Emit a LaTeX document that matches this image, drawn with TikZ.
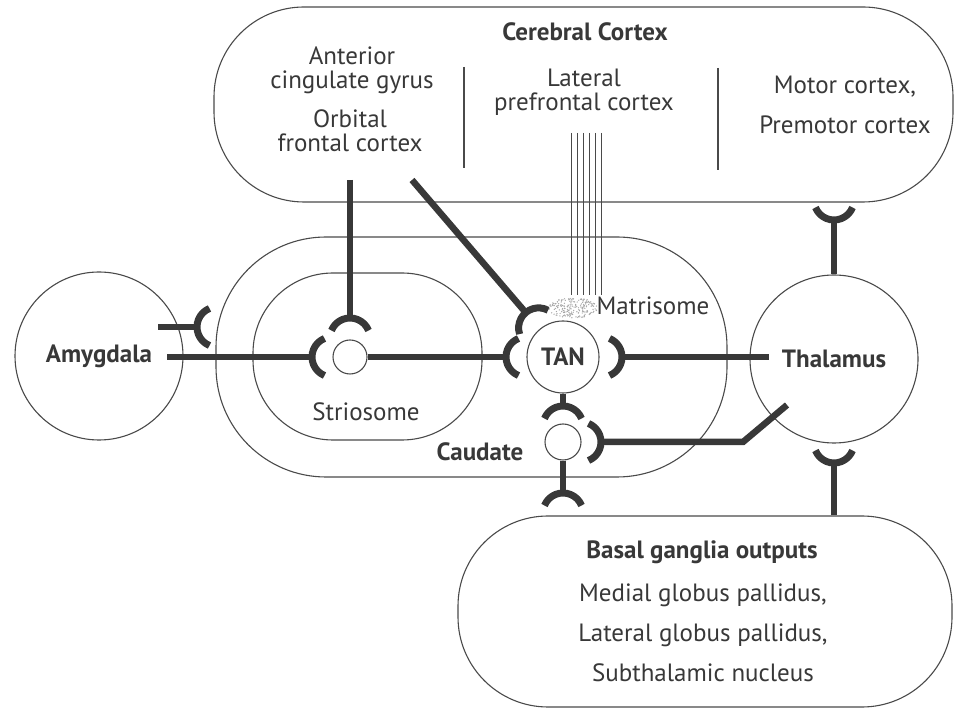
\documentclass[tikz,border=0pt]{standalone}
\usepackage{fontspec}
\setmainfont{PT Sans}
\definecolor{ink}{HTML}{383838}
\definecolor{rim}{HTML}{4A4A4A}
\tikzset{
	cup/.pic={
		\draw[ink, line width=7pt] (112:20) arc[start angle=112, end angle=248, radius=20];
		\coordinate (-back) at (180:20);
	}
}

\begin{document}
\begin{tikzpicture}[
		x={(1pt,0pt)},
		y={(0pt,1pt)},
		region/.style={draw=rim, line width=1.1pt},
		cell/.style={circle, draw=rim, line width=1.1pt, fill=white, inner sep=0pt},
		stem/.style={ink, line width=6.5pt},
		lbl/.style={align=center, text=ink, font=\fontsize{25}{24}\selectfont},
		boldlbl/.style={align=center, text=ink, font=\fontsize{25}{24}\selectfont\bfseries},
	]
		\useasboundingbox (0,0) rectangle (955,709);

		\node[region, rounded corners=90, minimum width=739, minimum height=195] (cortex) at (583.5,604.5) {};
		\node[region, rounded corners=110, minimum width=511, minimum height=240] (caudate) at (471.5,352) {};
		\node[region, rounded corners=80, minimum width=229, minimum height=167] (striosome) at (367.5,352.5) {};
		\node[region, rounded corners=90, minimum width=494, minimum height=191] (basal) at (705,97.5) {};

		\node[cell, minimum size=168, boldlbl] (amygdala) at (99,353) {Amygdala};
		\node[cell, minimum size=168, boldlbl] (thalamus) at (834,350) {Thalamus};
		\node[cell, minimum size=72, boldlbl] (tan) at (563,352) {TAN};
		\node[cell, minimum size=34] (sn) at (350,352) {};
		\node[cell, minimum size=36] (cn) at (563,267) {};

		\node[boldlbl] (ctxname) at (585,677) {Cerebral Cortex};
		\node[lbl] (acg) at (352,639) {Anterior\\cingulate gyrus};
		\node[lbl] (ofc) at (350,578) {Orbital\\frontal cortex};
		\node[lbl] (lpfc) at (584,617) {Lateral\\prefrontal cortex};
		\node[lbl, font=\fontsize{25}{40}\selectfont] (motor) at (845,604) {Motor cortex,\\Premotor cortex};
		\draw[rim, line width=1.1pt] (464,642) -- (464,541);
		\draw[rim, line width=1.1pt] (718,641) -- (718,539);

		\foreach \fx in {571,577,...,601}{
			\draw[rim, line width=0.9pt] (\fx,576) -- (\fx,414);
		}
		\pgfmathsetseed{7}
		\foreach \i in {1,...,200}{
			\pgfmathsetmacro\ang{rnd*360}
			\pgfmathsetmacro\rr{sqrt(rnd)}
			\fill[gray!70] (573,401) ++(\ang:{25*\rr} and {10*\rr}) circle (0.7);
		}
		\node[lbl] (matrisome) at (653,403) {Matrisome};
		\node[lbl] (strio) at (366,297) {Striosome};
		\node[boldlbl] (caud) at (480,257) {Caudate};

		\node[boldlbl] (bgname) at (702,157) {Basal ganglia outputs};
		\node[lbl, font=\fontsize{25}{40}\selectfont] (bgparts) at (703,76) {Medial globus pallidus,\\Lateral globus pallidus,\\Subthalamic nucleus};

		\foreach \n/\px/\py/\d in {c1/217/382/0, c2/332/352/0, c3/350/371/-90, c4/526/352/0, c5/538.6/381.1/-50, c6/602/352/180, c7/563/283/-90, c8/581/267/180, c9/563/196/-90, c10/834/509/90, c11/834/266/90}{
			\pic[rotate=\d] (\n) at (\px,\py) {cup};
		}

		\coordinate (amygUp) at (158,382);
		\coordinate (amygOut) at (167,352);
		\coordinate (ctxA) at (350,529);
		\coordinate (ctxB) at (412,529);
		\coordinate (thalIn) at (769,352);
		\coordinate (bend) at (743,267);
		\coordinate (caudOut) at (787,304);

		\draw[stem] (amygUp) -- (c1-back);
		\draw[stem] (amygOut) -- (c2-back);
		\draw[stem] (ctxA) -- (c3-back);
		\draw[stem] (sn) -- (c4-back);
		\draw[stem] (ctxB) -- (c5-back);
		\draw[stem] (c6-back) -- (thalIn);
		\draw[stem] (tan) -- (c7-back);
		\draw[stem] (c8-back) -- (bend) -- (caudOut);
		\draw[stem] (cn) -- (c9-back);
		\draw[stem] (thalamus) -- (c10-back);
		\draw[stem] (thalamus |- basal.north) -- (c11-back);
	\end{tikzpicture}
\end{document}
